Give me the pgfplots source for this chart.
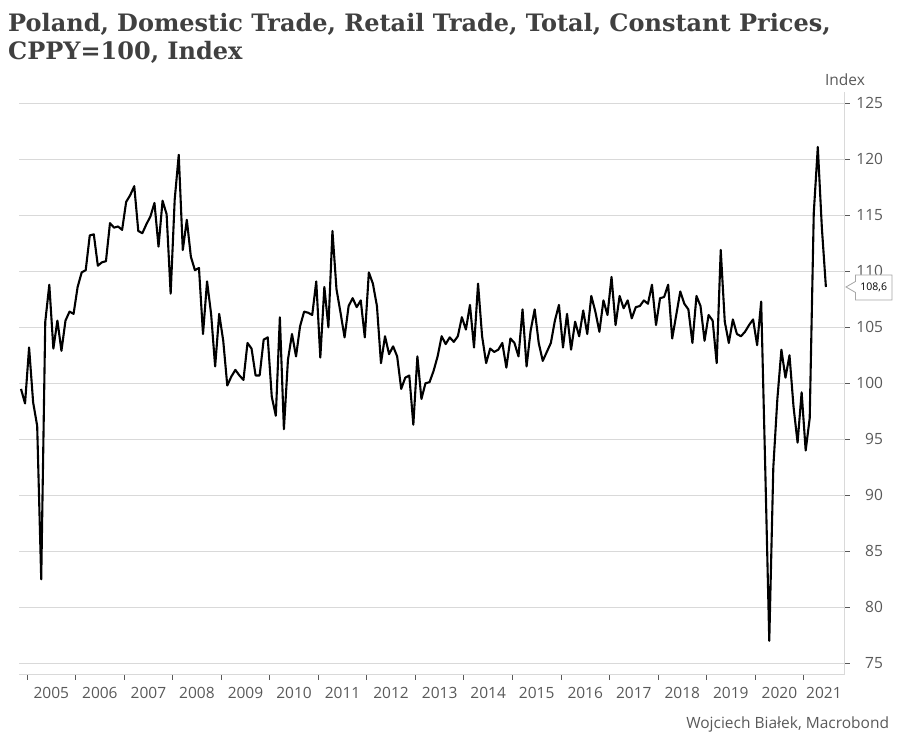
\documentclass[border=0pt]{standalone}
\usepackage{fontspec}
\setmainfont{Open Sans}
\newfontfamily\titlefont{DejaVu Serif}
\usepackage{pgfplots}
\usepackage{pgfplotstable}
\pgfplotsset{compat=1.18}
\definecolor{titlegray}{HTML}{404040}
\definecolor{labgray}{HTML}{595959}
\definecolor{gridgray}{HTML}{D9D9D9}
\definecolor{boxgray}{HTML}{A6A6A6}

% month index: 0 = Nov 2004 ... 199 = Jun 2021 (points at mid-month)
\pgfplotstableread{
i v
0 99.5
1 98.2
2 103.2
3 98.3
4 96.2
5 82.5
6 105.5
7 108.8
8 103.1
9 105.6
10 102.9
11 105.6
12 106.4
13 106.2
14 108.6
15 109.9
16 110.1
17 113.2
18 113.3
19 110.5
20 110.8
21 110.9
22 114.3
23 113.9
24 114.0
25 113.7
26 116.2
27 116.8
28 117.6
29 113.6
30 113.4
31 114.2
32 114.9
33 116.1
34 112.2
35 116.3
36 115.1
37 108.0
38 116.4
39 120.4
40 111.9
41 114.6
42 111.3
43 110.1
44 110.3
45 104.4
46 109.1
47 106.2
48 101.5
49 106.2
50 103.8
51 99.8
52 100.6
53 101.2
54 100.7
55 100.3
56 103.6
57 103.1
58 100.7
59 100.7
60 103.9
61 104.1
62 98.8
63 97.1
64 105.9
65 95.9
66 102.1
67 104.4
68 102.4
69 105.1
70 106.4
71 106.3
72 106.1
73 109.1
74 102.3
75 108.6
76 105.0
77 113.6
78 108.4
79 106.3
80 104.1
81 106.9
82 107.6
83 106.8
84 107.4
85 104.1
86 109.9
87 108.9
88 106.9
89 101.8
90 104.2
91 102.6
92 103.3
93 102.4
94 99.5
95 100.5
96 100.7
97 96.3
98 102.4
99 98.6
100 100.0
101 100.1
102 101.1
103 102.4
104 104.2
105 103.5
106 104.1
107 103.7
108 104.2
109 105.9
110 104.8
111 107.0
112 103.2
113 108.9
114 104.2
115 101.8
116 103.1
117 102.8
118 103.0
119 103.6
120 101.4
121 104.0
122 103.6
123 102.4
124 106.6
125 101.5
126 104.7
127 106.6
128 103.6
129 102.0
130 102.8
131 103.6
132 105.6
133 107.0
134 103.2
135 106.2
136 103.0
137 105.5
138 104.2
139 106.5
140 104.4
141 107.8
142 106.4
143 104.6
144 107.4
145 106.1
146 109.5
147 105.2
148 107.8
149 106.7
150 107.4
151 105.8
152 106.8
153 106.9
154 107.4
155 107.1
156 108.8
157 105.2
158 107.6
159 107.7
160 108.8
161 104.0
162 106.1
163 108.2
164 107.1
165 106.6
166 103.6
167 107.8
168 106.9
169 103.8
170 106.1
171 105.6
172 101.8
173 111.9
174 105.5
175 103.6
176 105.7
177 104.4
178 104.2
179 104.6
180 105.2
181 105.7
182 103.4
183 107.3
184 92.5
185 77.0
186 92.5
187 98.6
188 103.0
189 100.5
190 102.5
191 97.9
192 94.7
193 99.2
194 94.0
195 96.9
196 115.2
197 121.1
198 113.9
199 108.6
}\datatable

\begin{document}
\begin{tikzpicture}[x=1pt,y=1pt]
\useasboundingbox (0,0) rectangle (900,745);
\node[anchor=base west, inner sep=0pt, text=titlegray, font=\titlefont\bfseries\fontsize{24}{28}\selectfont] at (8,713.3) {Poland, Domestic Trade, Retail Trade, Total, Constant Prices,};
\node[anchor=base west, inner sep=0pt, text=titlegray, font=\titlefont\bfseries\fontsize{24}{28}\selectfont] at (8,685) {CPPY=100, Index};
\node[anchor=base, inner sep=0pt, text=labgray, font=\fontsize{15.5}{18}\selectfont] at (845,659) {Index};
\node[anchor=base east, inner sep=0pt, text=labgray, font=\fontsize{15.5}{18}\selectfont] at (889.3,16.7) {Wojciech Białek, Macrobond};
\begin{axis}[
  at={(19.3pt,70.5pt)}, anchor=south west,
  scale only axis, width=825.2pt, height=582.4pt,
  xmin=-0.42, xmax=203.6, ymin=74, ymax=126,
  axis x line*=bottom, axis y line*=right,
  axis line style={-, gridgray, line width=1pt},
  xtick pos=bottom, ytick pos=right, yticklabel pos=right,
  ytick={75,80,...,125},
  ymajorgrids, major grid style={gridgray, line width=1pt},
  xtick={1.5,13.5,25.5,37.5,49.5,61.5,73.5,85.5,97.5,109.5,121.5,133.5,145.5,157.5,169.5,181.5,193.5},
  xticklabels={},
  extra x ticks={7.5,19.5,31.5,43.5,55.5,67.5,79.5,91.5,103.5,115.5,127.5,139.5,151.5,163.5,175.5,187.5,198.5},
  extra x tick labels={2005,2006,2007,2008,2009,2010,2011,2012,2013,2014,2015,2016,2017,2018,2019,2020,2021},
  extra x tick style={major tick length=0pt, xticklabel style={yshift=-9pt}},
  tick align=outside, major tick length=5pt,
  tick style={labgray, line width=0.8pt},
  ticklabel style={font=\fontsize{15.5}{18}\selectfont, text=labgray},
  yticklabel style={anchor=east, xshift=37pt},
  /pgf/number format/assume math mode=true,
  clip=false,
]
\addplot[black, line width=2.1pt, line join=round] table[x=i, y=v] {\datatable};
\draw[draw=boxgray, fill=white, line width=0.8pt, shift={(axis cs:203.6,108.6)}]
  (1.5pt,0pt) -- (11pt,5.5pt) -- (11pt,12pt) -- (47.5pt,12pt) -- (47.5pt,-13pt) -- (11pt,-13pt) -- (11pt,-5.5pt) -- cycle;
\node[font=\fontsize{10.5}{12}\selectfont, text=black, inner sep=0pt] at (axis cs:203.6,108.6) [xshift=29.2pt, yshift=-0.5pt] {108,6};
\end{axis}
\end{tikzpicture}
\end{document}
